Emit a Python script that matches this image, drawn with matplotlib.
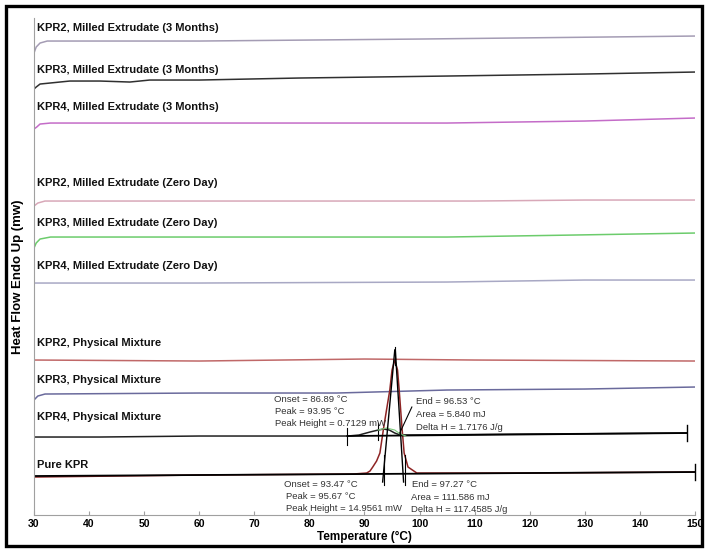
import numpy as np
import matplotlib.pyplot as plt
from matplotlib.patches import Rectangle

# DSC thermograms, stacked with offsets (y is arbitrary heat-flow units)
t_kpr2_3m = [30, 30.4, 31.1, 32.4, 60, 100, 150]
y_kpr2_3m = [462, 468, 472, 474, 474, 476, 479]

t_kpr3_3m = [30, 30.4, 31.1, 32.9, 36.5, 42, 47.4, 51, 60, 78, 105, 130, 150]
y_kpr3_3m = [426, 428, 431, 432, 434, 434, 433, 435, 435, 437, 439, 441, 443]

t_kpr4_3m = [30, 30.5, 31.1, 33, 80, 105, 130, 150]
y_kpr4_3m = [386, 388, 391, 392, 392, 392, 394, 397]

t_kpr2_0d = [30, 30.7, 32, 80, 110, 130, 150]
y_kpr2_0d = [309, 312, 314, 314, 314, 315, 315]

t_kpr3_0d = [30, 30.4, 31.1, 33, 80, 105, 128, 150]
y_kpr3_0d = [267, 272, 276, 278, 278, 278, 280, 282]

t_kpr4_0d = [30, 60, 105, 130, 150]
y_kpr4_0d = [232, 232, 233, 235, 235]

t_kpr2_pm = [30, 60, 90, 110, 150]
y_kpr2_pm = [155, 154, 156, 155, 154]

t_kpr3_pm = [30, 30.7, 32, 60, 85, 105, 130, 150]
y_kpr3_pm = [115, 119, 121, 122, 122, 125, 126, 128]

t_kpr4_pm = [30, 42, 60, 80, 87, 89, 91, 92.5, 93.5, 94.5, 95.5, 96.5, 98, 120, 148.5]
y_kpr4_pm = [78, 78, 79, 79, 79, 80, 83, 85, 86, 85, 82, 80, 80, 81, 82]

t_pure = [30, 60, 88, 90.4, 91, 91.5, 92.2, 92.8, 93.5, 94, 94.6, 95, 95.5,
          96, 96.3, 96.8, 97.2, 97.9, 99.5, 120, 150]
y_pure = [38, 40, 41, 42, 44, 48, 54, 62, 88, 105, 125, 145, 155,
          145, 125, 88, 62, 48, 42, 42, 43]

curves = [
    (t_kpr2_3m, y_kpr2_3m, '#a49cb4', 'KPR2, Milled Extrudate (3 Months)', 487),
    (t_kpr3_3m, y_kpr3_3m, '#303030', 'KPR3, Milled Extrudate (3 Months)', 445),
    (t_kpr4_3m, y_kpr4_3m, '#c46cc8', 'KPR4, Milled Extrudate (3 Months)', 408),
    (t_kpr2_0d, y_kpr2_0d, '#d8a8b8', 'KPR2, Milled Extrudate (Zero Day)', 332),
    (t_kpr3_0d, y_kpr3_0d, '#6ccc6c', 'KPR3, Milled Extrudate (Zero Day)', 292),
    (t_kpr4_0d, y_kpr4_0d, '#a8a8c4', 'KPR4, Milled Extrudate (Zero Day)', 249),
    (t_kpr2_pm, y_kpr2_pm, '#c06868', 'KPR2, Physical Mixture', 172),
    (t_kpr3_pm, y_kpr3_pm, '#6a6a9c', 'KPR3, Physical Mixture', 135),
    (t_kpr4_pm, y_kpr4_pm, '#202020', 'KPR4, Physical Mixture', 98),
    (t_pure, y_pure, '#8e2424', 'Pure KPR', 50),
]

lab_font = ['Liberation Sans', 'DejaVu Sans']

fig = plt.figure(figsize=(7.08, 5.5), dpi=100)
ax = fig.add_axes([0.048, 0.0636, 0.9336, 0.9036])
ax.set_xlim(30, 150)
ax.set_ylim(0, 497)

for t, y, c, name, ly in curves:
    ax.plot(t, y, color=c, lw=1.1)
    ax.text(30.55, ly, name, fontsize=8, fontweight='bold', family=lab_font,
            va='center', ha='left', color='#111111')

# baselines and markers for the integrated peaks
ax.plot([30, 150], [39, 43], color='black', lw=1.3)
ax.plot([150, 150], [35, 51], color='black', lw=1, clip_on=False)
ax.plot([86.89, 148.5], [79, 82], color='black', lw=1.3)
ax.plot([148.5, 148.5], [74, 90], color='black', lw=1)
ax.plot([86.89, 86.89], [70, 87], color='black', lw=0.8)
ax.plot([92.4, 92.4], [75, 92], color='black', lw=0.8)
ax.plot([92.5, 94, 95.5, 96.5, 97.5], [85, 87, 85, 81, 79], color='#7cc87c', lw=0.8)

# tangents on the pure KPR peak
ax.plot([95.5, 93.3], [165, 33], color='black', lw=1)
ax.plot([95.6, 97.1], [165, 33], color='black', lw=1)
ax.plot([95.5, 95.5], [150, 168], color='black', lw=0.8)
ax.plot([93.47, 93.47], [30, 60], color='black', lw=0.8)
ax.plot([97.27, 97.27], [30, 60], color='black', lw=0.8)
ax.plot([98.6, 96.4], [108, 82], color='black', lw=0.8)

ann = dict(fontsize=6.8, family=lab_font, color='#333333', va='center', ha='left')
ax.text(73.6, 116, 'Onset = 86.89 °C', **ann)
ax.text(73.75, 104, 'Peak = 93.95 °C', **ann)
ax.text(73.75, 92, 'Peak Height = 0.7129 mW', **ann)
ax.text(99.35, 114, 'End = 96.53 °C', **ann)
ax.text(99.35, 101, 'Area = 5.840 mJ', **ann)
ax.text(99.35, 88, 'Delta H = 1.7176 J/g', **ann)
ax.text(75.4, 31, 'Onset = 93.47 °C', **ann)
ax.text(75.75, 19, 'Peak = 95.67 °C', **ann)
ax.text(75.75, 7, 'Peak Height = 14.9561 mW', **ann)
ax.text(98.6, 31, 'End = 97.27 °C', **ann)
ax.text(98.45, 18, 'Area = 111.586 mJ', **ann)
ax.text(98.45, 6, 'Delta H = 117.4585 J/g', **ann)

ax.spines['top'].set_visible(False)
ax.spines['right'].set_visible(False)
ax.spines['left'].set_color('#a0a0a0')
ax.spines['bottom'].set_color('#a0a0a0')
ax.set_yticks([])
ax.set_xticks(np.arange(30, 151, 10))
ax.tick_params(axis='x', direction='in', length=3, color='#a0a0a0', pad=3)
for lbl in ax.get_xticklabels():
    lbl.set_fontweight('bold')
    lbl.set_fontsize(7.5)
    lbl.set_family(lab_font)

ax.set_xlabel('Temperature (°C)', fontsize=8.5, fontweight='bold', family=lab_font, labelpad=1)
fig.text(0.026, 0.496, 'Heat Flow Endo Up (mw)', rotation=90, fontsize=9.5,
         fontweight='bold', family=lab_font, va='center', ha='center')

fig.patches.append(Rectangle((6 / 708, 1 - 546 / 550), 696 / 708, 540 / 550,
                             transform=fig.transFigure, fill=False, lw=2.4, ec='black'))

fig.savefig('out.png', dpi=100)
